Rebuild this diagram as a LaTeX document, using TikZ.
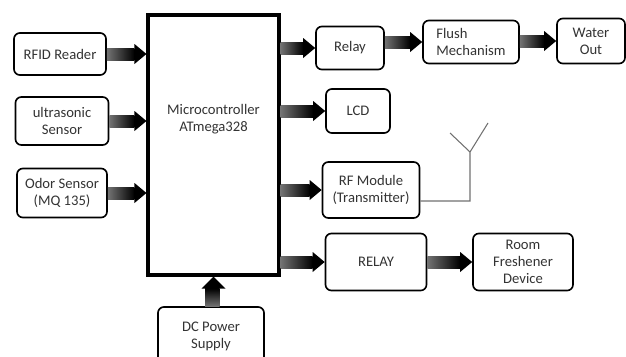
\documentclass[tikz,border=0pt]{standalone}
\usepackage{fontspec}
\setmainfont{Carlito}
\usepackage{tikz}
\usetikzlibrary{calc,positioning}
\definecolor{blkText}{HTML}{333333}
\definecolor{antGray}{HTML}{707070}

% fat shaded arrows, from start point to tip point
\newcommand{\fatright}[2]{%
  \shade[left color=black!55,right color=black] ($(#1)+(0,-6)$) rectangle ($(#2)+(-12,6)$);
  \fill ($(#2)+(-12,-10)$) -- (#2) -- ($(#2)+(-12,10)$) -- cycle;}
\newcommand{\fatup}[2]{%
  \shade[bottom color=black!55,top color=black] ($(#1)+(-6,0)$) rectangle ($(#2)+(6,12)$);
  \fill ($(#2)+(-12,12)$) -- (#2) -- ($(#2)+(12,12)$) -- cycle;}

\begin{document}
\begin{tikzpicture}[x=0.03cm,y=-0.03cm,
  blk/.style={draw,line width=1.4pt,rounded corners=5pt,
              inner sep=2pt,text=blkText,align=center,
              font=\fontsize{12.5}{14.5}\selectfont},
  mcubox/.style={draw,line width=2.6pt,minimum width=131*0.03cm,
              minimum height=260*0.03cm},
  txt/.style={text=blkText,align=center,font=\fontsize{12.5}{14.5}\selectfont}]
  \clip (0,0) rectangle (626,356);
  % controller
  \node[mcubox] (mcu) at (213.5,145) {};
  \node[txt] (mcutxt) at (213.5,119) {Microcontroller\\ATmega328};
  % inputs
  \node[blk,minimum width=92*0.03cm,minimum height=42*0.03cm] (rfid) at (60,54) {RFID Reader};
  \node[blk,minimum width=93*0.03cm,minimum height=48*0.03cm] (us) at (62,121) {ultrasonic\\Sensor};
  \node[blk,minimum width=90*0.03cm,minimum height=49*0.03cm,inner sep=1pt] (odor) at (62,193) {Odor Sensor\\(MQ 135)};
  \node[blk,minimum width=106*0.03cm,minimum height=58*0.03cm] (dc) at (211,336) {DC Power\\Supply};
  % outputs
  \node[blk,minimum width=68*0.03cm,minimum height=43*0.03cm] (relay) at (350,48) {Relay};
  \node[blk,minimum width=96*0.03cm,minimum height=43*0.03cm,align=left] (flush) at (471,42) {Flush\\Mechanism};
  \node[blk,minimum width=68*0.03cm,minimum height=45*0.03cm] (water) at (591,41) {Water\\Out};
  \node[blk,minimum width=64*0.03cm,minimum height=44*0.03cm] (lcd) at (358,111) {LCD};
  \node[blk,minimum width=97*0.03cm,minimum height=56*0.03cm] (rf) at (371,190) {RF Module\\(Transmitter)};
  \node[blk,minimum width=101*0.03cm,minimum height=57*0.03cm] (relay2) at (376,262) {RELAY};
  \node[blk,minimum width=100*0.03cm,minimum height=57*0.03cm] (room) at (523,262) {Room\\Freshener\\Device};
  % antenna
  \coordinate (ant) at (470,152);
  \draw[antGray,line width=0.9pt] ($(rf.east)+(0,11)$) -| (ant) -- +(-20,-19)
    (ant) -- +(18,-29);
  % arrows
  \fatright{rfid.east}{mcu.west |- rfid.east}
  \fatright{us.east}{mcu.west |- us.east}
  \fatright{odor.east}{mcu.west |- odor.east}
  \fatup{dc.north}{mcu.south}
  \fatright{mcu.east |- relay.west}{relay.west}
  \fatright{mcu.east |- lcd.west}{lcd.west}
  \fatright{mcu.east |- rf.west}{rf.west}
  \fatright{mcu.east |- relay2.west}{relay2.west}
  \fatright{relay.east |- flush.west}{flush.west}
  \fatright{flush.east |- water.west}{water.west}
  \fatright{relay2.east}{room.west}
\end{tikzpicture}
\end{document}
